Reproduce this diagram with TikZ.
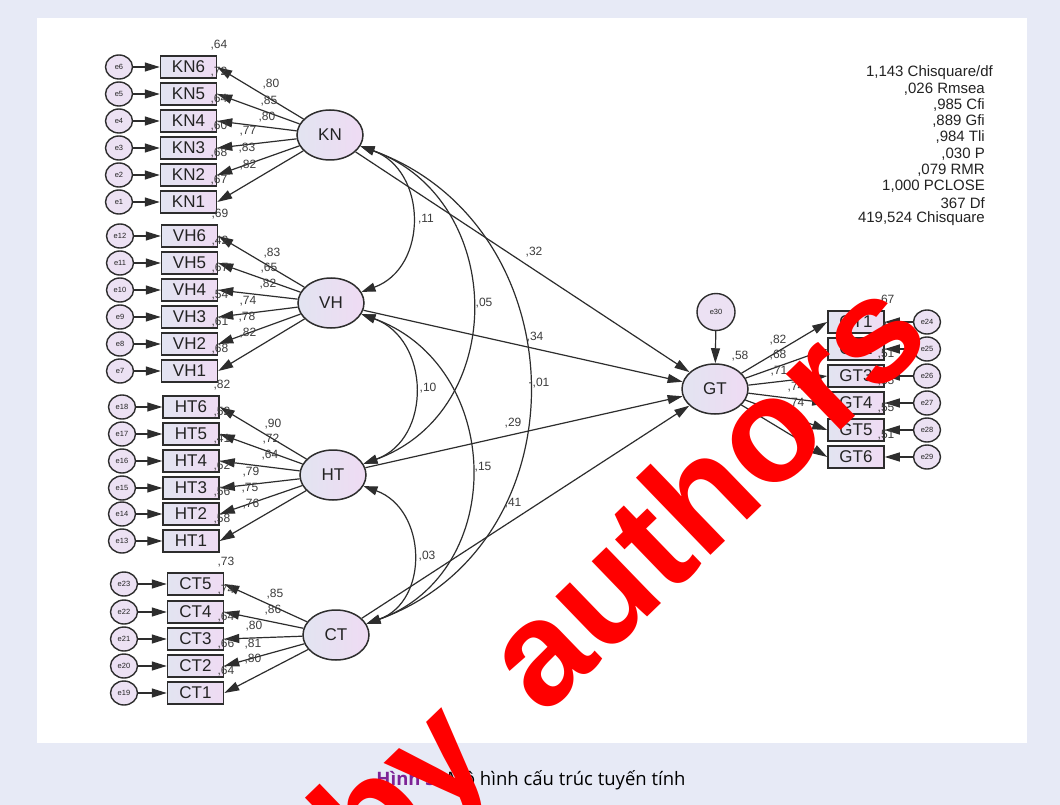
\documentclass[tikz,border=0pt]{standalone}
\usepackage{fontspec}
\setmainfont{Liberation Sans}
\newfontfamily\capfont{Open Sans}
\usetikzlibrary{shapes.geometric,arrows.meta}
\definecolor{pagebg}{RGB}{231,234,246}
\definecolor{lavL}{RGB}{226,228,241}
\definecolor{lavR}{RGB}{239,219,243}
\definecolor{errfill}{RGB}{236,225,243}
\definecolor{edge}{RGB}{45,45,45}
\definecolor{ink}{RGB}{35,35,35}
\definecolor{numink}{RGB}{60,60,60}
\definecolor{cappurple}{RGB}{125,35,150}
\definecolor{wmred}{RGB}{255,0,0}
\newcommand{\fs}[1]{\fontsize{#1}{#1}\selectfont}

\begin{document}
\begin{tikzpicture}[x=1pt,y=1pt,
  tip/.style={line width=1.2pt,draw=edge,-{Triangle[length=15pt,width=9pt]}},
  dtip/.style={line width=1.2pt,draw=edge,{Triangle[length=14pt,width=9pt]}-{Triangle[length=14pt,width=9pt]}},
  ind/.style={rectangle,draw=edge,line width=1.5pt,minimum width=56pt,minimum height=22pt,
    inner sep=0pt,left color=lavL,right color=lavR,font=\fs{17},text=ink},
  lat/.style={ellipse,draw=edge,line width=1.5pt,minimum width=66pt,minimum height=50pt,
    inner sep=0pt,left color=lavL,right color=lavR,font=\fs{17},text=ink},
  errc/.style={ellipse,draw=edge,line width=1.4pt,minimum width=27pt,minimum height=24pt,
    inner sep=0pt,fill=errfill,font=\fs{7.5},text=ink},
  lab/.style={font=\fs{12},text=numink,inner sep=0pt},
  fit/.style={font=\fs{15},text=ink,inner sep=0pt,anchor=east}
]
\useasboundingbox (0,0) rectangle (1060,-805);
\clip (0,0) rectangle (1060,-805);
% page and white panel
\fill[pagebg] (0,0) rectangle (1060,-805);
\fill[white] (37,-18) rectangle (1027,-743);

% latent variables
\node[lat] (KN) at (330,-135) {KN};
\node[lat] (VH) at (331,-303) {VH};
\node[lat] (HT) at (333,-475) {HT};
\node[lat] (CT) at (336,-635) {CT};
\node[lat] (GT) at (715,-389) {GT};
\node[errc,minimum width=38pt,minimum height=37pt] (e30) at (716,-312) {e30};

% KN block
\foreach \n/\e/\y/\r in {6/6/67/{,64},5/5/94/{,72},4/4/121/{,64},3/3/148/{,60},2/2/175/{,68},1/1/202/{,67}}{
  \node[errc] (e\e) at (119,-\y) {e\e};
  \node[ind] (KN\n) at (188.5,-\y) {KN\n};
  \draw[tip] (e\e) -- (KN\n);
  \draw[tip] (KN) -- (KN\n.east);
  \node[lab] at (219,-\y+22) {\r};
}
% VH block
\foreach \n/\e/\y/\r in {6/12/236/{,69},5/11/263/{,42},4/10/290/{,67},3/9/317/{,54},2/8/344/{,61},1/7/371/{,68}}{
  \node[errc] (e\e) at (120,-\y) {e\e};
  \node[ind] (VH\n) at (189.5,-\y) {VH\n};
  \draw[tip] (e\e) -- (VH\n);
  \draw[tip] (VH) -- (VH\n.east);
  \node[lab] at (220,-\y+22) {\r};
}
% HT block
\foreach \n/\e/\y/\r in {6/18/407/{,82},5/17/434/{,52},4/16/461/{,41},3/15/488/{,62},2/14/514/{,56},1/13/541/{,58}}{
  \node[errc] (e\e) at (122,-\y) {e\e};
  \node[ind] (HT\n) at (191,-\y) {HT\n};
  \draw[tip] (e\e) -- (HT\n);
  \draw[tip] (HT) -- (HT\n.east);
  \node[lab] at (222,-\y+22) {\r};
}
% CT block
\foreach \n/\e/\y/\r in {5/23/584/{,73},4/22/612/{,74},3/21/639/{,64},2/20/666/{,66},1/19/693/{,64}}{
  \node[errc] (e\e) at (124,-\y) {e\e};
  \node[ind] (CT\n) at (195.5,-\y) {CT\n};
  \draw[tip] (e\e) -- (CT\n);
  \draw[tip] (CT) -- (CT\n.east);
  \node[lab] at (226,-\y+22) {\r};
}
% GT block
\foreach \n/\e/\y/\r in {1/24/322/{,67},2/25/349/{,46},3/26/376/{,51},4/27/403/{,55},5/28/430/{,55},6/29/457/{,51}}{
  \node[errc] (e\e) at (927,-\y) {e\e};
  \node[ind] (GT\n) at (856,-\y) {GT\n};
  \draw[tip] (e\e) -- (GT\n);
  \draw[tip] (GT) -- (GT\n.west);
  \node[lab] at (886,-\y+22) {\r};
}
\draw[tip] (e30) -- (GT);

% structural paths
\draw[tip] (KN) -- (GT);
\draw[tip] (VH) -- (GT);
\draw[tip] (HT) -- (GT);
\draw[tip] (CT) -- (GT);

% covariances
\draw[dtip] (KN) to[out=-20,in=20,looseness=1.25] (VH);
\draw[dtip] (KN) to[out=-20,in=20,looseness=1.25] (HT);
\draw[dtip] (KN) to[out=-20,in=20,looseness=1.25] (CT);
\draw[dtip] (VH) to[out=-20,in=20,looseness=1.25] (HT);
\draw[dtip] (VH) to[out=-20,in=20,looseness=1.25] (CT);
\draw[dtip] (HT) to[out=-20,in=20,looseness=1.25] (CT);

% loadings and path coefficients
\foreach \x/\y/\t in {271/84/{,80},269/101/{,85},267/117/{,80},248/131/{,77},247/148/{,83},248/165/{,82},
  272/253/{,83},269/268/{,65},268/284/{,82},248/301/{,74},247/317/{,78},248/333/{,82},
  273/424/{,90},271/439/{,72},270/455/{,64},251/472/{,79},250/488/{,75},251/504/{,76},
  275/594/{,85},273/610/{,86},254/626/{,80},253/644/{,81},253/659/{,80},
  778/340/{,82},778/355/{,68},779/371/{,71},796/387/{,74},796/403/{,74},796/420/{,71},
  740/356/{,58},
  534/252/{,32},535/337/{,34},513/423/{,29},513/503/{,41},
  426/219/{,11},484/303/{,05},539/383/{-,01},428/388/{,10},483/467/{,15},427/556/{,03}}{
  \node[lab] at (\x,-\y) {\t};
}

% fit indices
\node[fit] at (993,-73) {1,143 Chisquare/df};
\node[fit] at (985,-89) {,026 Rmsea};
\node[fit] at (985,-105) {,985 Cfi};
\node[fit] at (985,-121) {,889 Gfi};
\node[fit] at (985,-137) {,984 Tli};
\node[fit] at (985,-154) {,030 P};
\node[fit] at (985,-170) {,079 RMR};
\node[fit] at (985,-186) {1,000 PCLOSE};
\node[fit] at (985,-203) {367 Df};
\node[fit] at (985,-219) {419,524 Chisquare};

% caption
\node[font=\capfont\fs{18.5},text=black,inner sep=0pt] (cap) at (531,-780)
  {\textcolor{cappurple}{\bfseries Hình 3}: Mô hình cấu trúc tuyến tính};

% stamp
\node[anchor=base west,rotate=44,font=\bfseries\fs{148},text=wmred,inner sep=0pt] (stamp) at (372,-883) {by\hspace{25pt} authors};
\end{tikzpicture}
\end{document}
